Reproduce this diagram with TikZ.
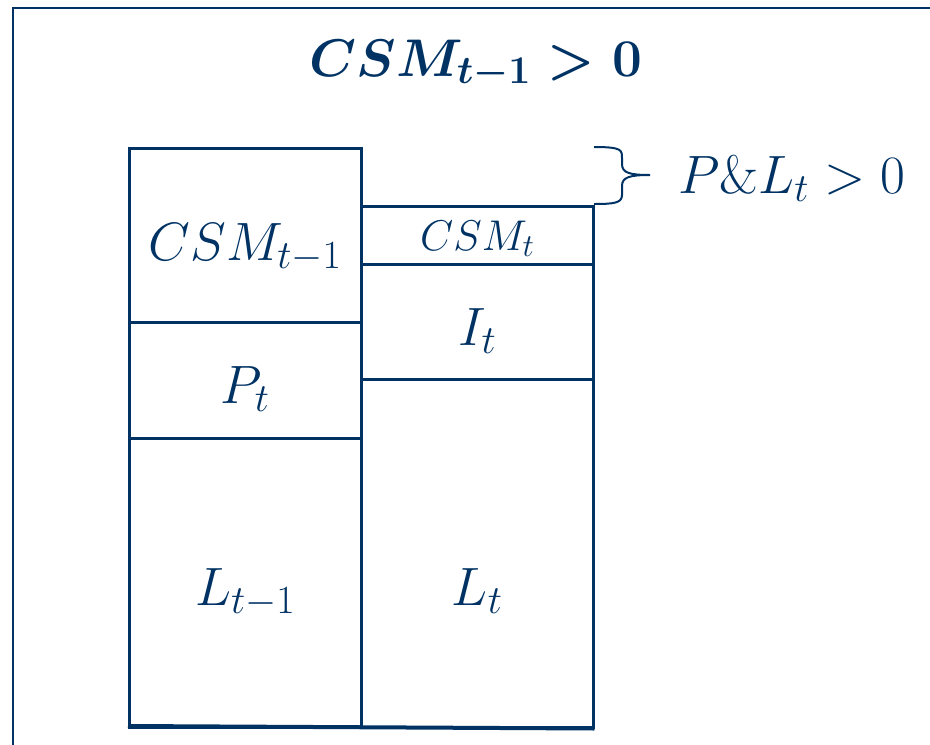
\RequirePackage{fix-cm}
\documentclass[tikz,border=0pt]{standalone}
\renewcommand\defaultscriptratio{.74}
\definecolor{navy}{RGB}{0,50,100}
\tikzset{
  cell/.style={draw=navy, line width=2.5pt, rectangle, inner sep=0pt, minimum width=232pt, anchor=north west},
  lab/.style={text=navy, anchor=base, inner sep=0pt, font=\fontsize{54}{60}\selectfont},
  smalllab/.style={lab, font=\fontsize{43}{50}\selectfont},
  frame/.style={draw=navy, line width=2pt},
}
\begin{document}
\begin{tikzpicture}[x=1pt,y=-1pt]
\useasboundingbox (0,0) rectangle (930,745);
\draw[frame] (12.5,745) -- (12.5,7.5) -- (930,7.5);
% title
\node[lab, font=\fontsize{53}{58}\selectfont\boldmath] (title) at (476,76) {$CSM_{t-1}>0$};
% left column
\node[cell, minimum height=174pt] (lcsm) at (128,147) {};
\node[cell, minimum height=116pt] (lp) at (128,321) {};
\node[cell, minimum height=289pt] (ll) at (128,437) {};
% right column
\node[cell, minimum height=58pt] (rcsm) at (360,205) {};
\node[cell, minimum height=115pt] (ri) at (360,263) {};
\node[cell, minimum height=348pt] (rl) at (360,378) {};
\draw[navy, line width=4pt] (lcsm.west |- 0,726) -- (rl.south east);
% labels
\node[lab] (tlcsm) at (lcsm.center |- 0,260) {$CSM_{t-1}$};
\node[lab] (tlp) at (lp.center |- 0,403) {$P_t$};
\node[lab] (tll) at (ll.center |- 0,605) {$L_{t-1}$};
\node[smalllab] (trcsm) at (rcsm.center |- 0,250) {$CSM_t$};
\node[lab] (tri) at (ri.center |- 0,345) {$I_t$};
\node[lab] (trl) at (rl.center |- 0,605) {$L_t$};
% brace
\coordinate (btop) at (594,147);
\coordinate (btip) at (650,175);
\coordinate (bbot) at (594,204);
\draw[navy, line width=2pt]
  (btop) .. controls (622,147) and (622,150) .. (622,158) -- (622,164)
  .. controls (622,173) and (630,175) .. (btip)
  .. controls (630,175) and (622,177) .. (622,186) -- (622,195)
  .. controls (622,203) and (614,204) .. (bbot);
\node[lab, anchor=base west] (pl) at (678,193) {$P\&L_t>0$};
\end{tikzpicture}
\end{document}
